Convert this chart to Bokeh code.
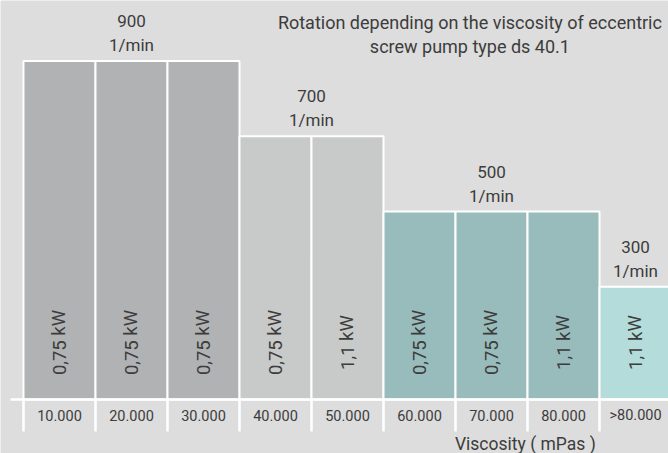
from bokeh.plotting import figure
from bokeh.models import ColumnDataSource
from bokeh.core.properties import value
from bokeh.embed import file_html
from bokeh.resources import INLINE

# ---- data ----
viscosity = ["10.000", "20.000", "30.000", "40.000", "50.000",
             "60.000", "70.000", "80.000", ">80.000"]
rpm = [900, 900, 900, 700, 700, 500, 500, 500, 300]
power = ["0,75 kW", "0,75 kW", "0,75 kW", "0,75 kW", "1,1 kW",
         "0,75 kW", "0,75 kW", "1,1 kW", "1,1 kW"]
bar_colors = ["#b1b2b3", "#b1b2b3", "#b1b2b3", "#c8c9c9", "#c8c9c9",
              "#98bbbb", "#98bbbb", "#98bbbb", "#b3dcda"]
group_rpm = [900, 700, 500, 300]
group_first = [0, 3, 5, 8]
group_last = [2, 4, 7, 8]
title_lines = ["Rotation depending on the viscosity of eccentric",
               "screw pump type ds 40.1"]
x_title = "Viscosity  ( mPas )"
unit = "1/min"

BG = "#dcdddc"
TXT = "#3c3c3c"
FONT = "Roboto"

W, H = 668, 453
PX_PER_CAT = 72.0
PX_PER_RPM = 0.376
LEFT_PAD = 23
BASE_Y = 399

x_start = -LEFT_PAD / PX_PER_CAT
x_end = x_start + W / PX_PER_CAT
y_end = BASE_Y / PX_PER_RPM
y_start = -(H - BASE_Y) / PX_PER_RPM

def px(v):
    return v / PX_PER_RPM

p = figure(width=W, height=H, x_range=(x_start, x_end), y_range=(y_start, y_end),
           output_backend="svg", toolbar_location=None,
           x_axis_location=None, y_axis_location=None, min_border=0)
p.background_fill_color = BG
p.border_fill_color = BG
p.outline_line_color = None
p.grid.visible = False

n = len(viscosity)
idx = list(range(n))
src = ColumnDataSource(dict(
    left=idx, right=[i + 1 for i in idx], top=rpm, bottom=[0] * n,
    color=bar_colors, power=power, cx=[i + 0.5 for i in idx],
    label=viscosity,
    py=[px(57)] * n, ly=[px(-16)] * n,
))

p.quad(left="left", right="right", top="top", bottom="bottom", source=src,
       fill_color="color", line_color="white", line_width=2)

# baseline
p.segment(x0=[x_start + 10 / PX_PER_CAT], x1=[x_end], y0=[0], y1=[0],
          line_color="white", line_width=2.5)
# separators below baseline
p.segment(x0=list(range(n + 1)), x1=list(range(n + 1)), y0=[0] * (n + 1),
          y1=[px(-32)] * (n + 1), line_color="white", line_width=2.5)

# power labels (rotated)
p.text(x="cx", y="py", text="power", source=src, angle=1.5708,
       text_align="center", text_baseline="middle", text_font=value(FONT),
       text_font_size="18.5px", text_color=TXT)

# category labels
p.text(x="cx", y="ly", text="label", source=src,
       text_align="center", text_baseline="middle", text_font=value(FONT),
       text_font_size="14.5px", text_color=TXT)

# group labels
gx = [(f + l + 1) / 2 for f, l in zip(group_first, group_last)]
p.text(x=gx, y=[g + px(40) for g in group_rpm], text=[str(g) for g in group_rpm],
       text_align="center", text_baseline="middle", text_font=value(FONT),
       text_font_size="17px", text_color=TXT)
p.text(x=gx, y=[g + px(16) for g in group_rpm], text=[unit] * len(group_rpm),
       text_align="center", text_baseline="middle", text_font=value(FONT),
       text_font_size="17px", text_color=TXT)

# title
p.text(x=[6.2, 6.2], y=[px(BASE_Y - 22), px(BASE_Y - 46)], text=title_lines,
       text_align="center", text_baseline="middle", text_font=value(FONT),
       text_font_size="18px", text_color=TXT)

# x axis title
p.text(x=[7.0], y=[px(-44)], text=[x_title],
       text_align="center", text_baseline="middle", text_font=value(FONT),
       text_font_size="17.5px", text_color=TXT)

open("out.html", "w").write(file_html(p, INLINE))
